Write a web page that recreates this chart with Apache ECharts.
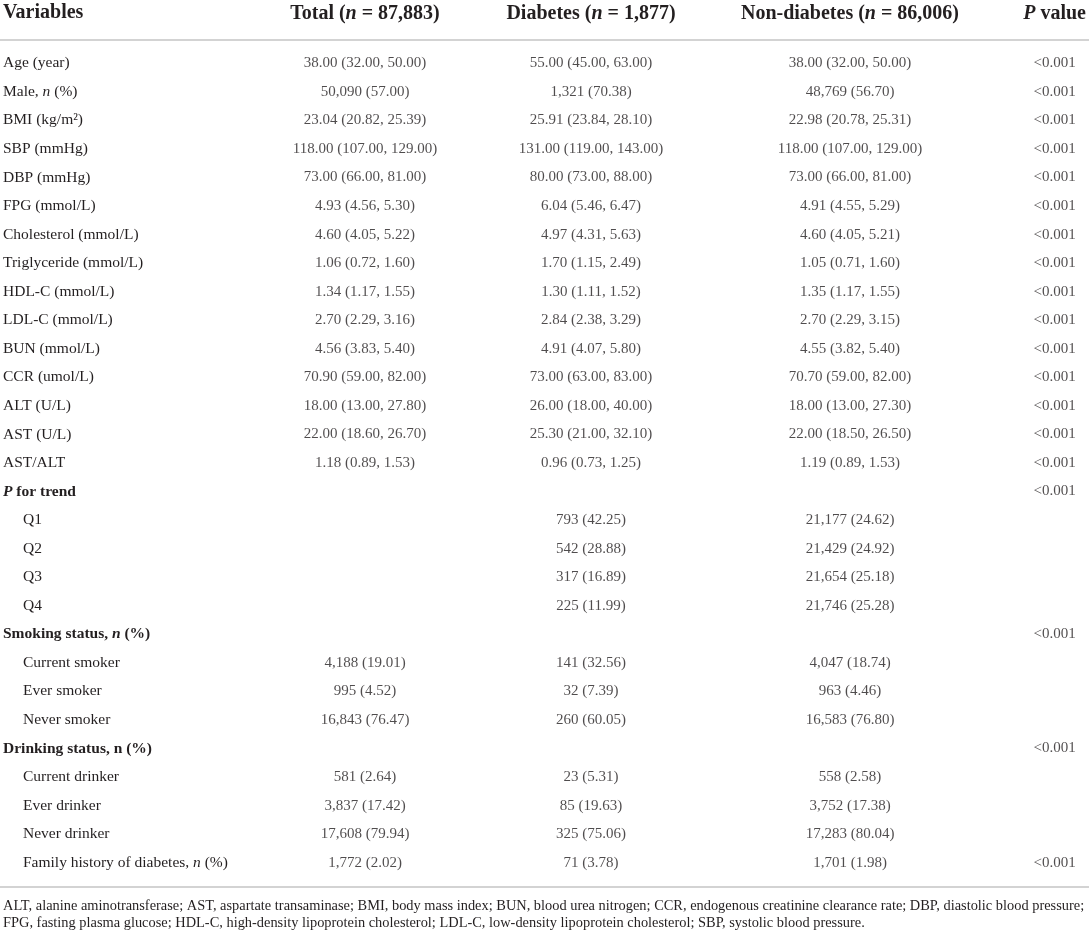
<!DOCTYPE html>
<html>
<head>
<meta charset="utf-8">
<script src="https://cdn.jsdelivr.net/npm/echarts@6/dist/echarts.min.js"></script>
<style>
  html, body { margin: 0; padding: 0; background: #fff; }
  #main { width: 1089px; height: 936px; }
</style>
</head>
<body>
<div id="main"></div>
<script>
// 行标签 ({i|..} 斜体, {b|..} 粗体, {ind|} 缩进)
var rowLabels = [
    'Age (year)', 'Male, {i|n} (%)', 'BMI (kg/m²)', 'SBP (mmHg)', 'DBP (mmHg)',
    'FPG (mmol/L)', 'Cholesterol (mmol/L)', 'Triglyceride (mmol/L)', 'HDL-C (mmol/L)',
    'LDL-C (mmol/L)', 'BUN (mmol/L)', 'CCR (umol/L)', 'ALT (U/L)', 'AST (U/L)', 'AST/ALT',
    '{bi|P}{b| for trend}', '{ind|}Q1', '{ind|}Q2', '{ind|}Q3', '{ind|}Q4',
    '{b|Smoking status, }{bi|n}{b| (%)}', '{ind|}Current smoker', '{ind|}Ever smoker', '{ind|}Never smoker',
    '{b|Drinking status, n (%)}', '{ind|}Current drinker', '{ind|}Ever drinker', '{ind|}Never drinker',
    '{ind|}Family history of diabetes, {i|n} (%)'
];
var headers = ['Total ({i|n} = 87,883)', 'Diabetes ({i|n} = 1,877)', 'Non-diabetes ({i|n} = 86,006)', '{i|P} value'];
var totalCol = [
    '38.00 (32.00, 50.00)', '50,090 (57.00)', '23.04 (20.82, 25.39)', '118.00 (107.00, 129.00)',
    '73.00 (66.00, 81.00)', '4.93 (4.56, 5.30)', '4.60 (4.05, 5.22)', '1.06 (0.72, 1.60)',
    '1.34 (1.17, 1.55)', '2.70 (2.29, 3.16)', '4.56 (3.83, 5.40)', '70.90 (59.00, 82.00)',
    '18.00 (13.00, 27.80)', '22.00 (18.60, 26.70)', '1.18 (0.89, 1.53)',
    '', '', '', '', '',
    '', '4,188 (19.01)', '995 (4.52)', '16,843 (76.47)',
    '', '581 (2.64)', '3,837 (17.42)', '17,608 (79.94)', '1,772 (2.02)'
];
var diabetesCol = [
    '55.00 (45.00, 63.00)', '1,321 (70.38)', '25.91 (23.84, 28.10)', '131.00 (119.00, 143.00)',
    '80.00 (73.00, 88.00)', '6.04 (5.46, 6.47)', '4.97 (4.31, 5.63)', '1.70 (1.15, 2.49)',
    '1.30 (1.11, 1.52)', '2.84 (2.38, 3.29)', '4.91 (4.07, 5.80)', '73.00 (63.00, 83.00)',
    '26.00 (18.00, 40.00)', '25.30 (21.00, 32.10)', '0.96 (0.73, 1.25)',
    '', '793 (42.25)', '542 (28.88)', '317 (16.89)', '225 (11.99)',
    '', '141 (32.56)', '32 (7.39)', '260 (60.05)',
    '', '23 (5.31)', '85 (19.63)', '325 (75.06)', '71 (3.78)'
];
var nonDiabetesCol = [
    '38.00 (32.00, 50.00)', '48,769 (56.70)', '22.98 (20.78, 25.31)', '118.00 (107.00, 129.00)',
    '73.00 (66.00, 81.00)', '4.91 (4.55, 5.29)', '4.60 (4.05, 5.21)', '1.05 (0.71, 1.60)',
    '1.35 (1.17, 1.55)', '2.70 (2.29, 3.15)', '4.55 (3.82, 5.40)', '70.70 (59.00, 82.00)',
    '18.00 (13.00, 27.30)', '22.00 (18.50, 26.50)', '1.19 (0.89, 1.53)',
    '', '21,177 (24.62)', '21,429 (24.92)', '21,654 (25.18)', '21,746 (25.28)',
    '', '4,047 (18.74)', '963 (4.46)', '16,583 (76.80)',
    '', '558 (2.58)', '3,752 (17.38)', '17,283 (80.04)', '1,701 (1.98)'
];
var pCol = [
    '<0.001', '<0.001', '<0.001', '<0.001', '<0.001', '<0.001', '<0.001', '<0.001',
    '<0.001', '<0.001', '<0.001', '<0.001', '<0.001', '<0.001', '<0.001',
    '<0.001', '', '', '', '',
    '<0.001', '', '', '',
    '<0.001', '', '', '', '<0.001'
];
var footnote = [
    'ALT, alanine aminotransferase; AST, aspartate transaminase; BMI, body mass index; BUN, blood urea nitrogen; CCR, endogenous creatinine clearance rate; DBP, diastolic blood pressure;',
    'FPG, fasting plasma glucose; HDL-C, high-density lipoprotein cholesterol; LDL-C, low-density lipoprotein cholesterol; SBP, systolic blood pressure.'
];

var myChart = echarts.init(document.getElementById('main'));
var FONT = '"Liberation Serif", "DejaVu Serif", serif';
var INK = '#231f20';
var RULE = '#c4c4c4';
var LABEL_SIZE = 15.5, CELL_SIZE = 15;

var bodyRich = {
    i: {fontFamily: FONT, fontSize: LABEL_SIZE, color: INK, fontStyle: 'italic'},
    b: {fontFamily: FONT, fontSize: LABEL_SIZE, color: INK, fontWeight: 'bold'},
    bi: {fontFamily: FONT, fontSize: LABEL_SIZE, color: INK, fontWeight: 'bold', fontStyle: 'italic'},
    ind: {width: 20}
};
var headRich = {
    i: {fontFamily: FONT, fontSize: 20, color: INK, fontWeight: 'bold', fontStyle: 'italic'}
};

// 表格区域
var TOP = 49, BOTTOM = 936 - 877;
var cols = [
    {data: totalCol, left: 265, width: 200},
    {data: diabetesCol, left: 491, width: 200},
    {data: nonDiabetesCol, left: 750, width: 200},
    {data: pCol, left: 1025, width: 64}
];

var grid = [{left: 3, width: 250, top: TOP, bottom: BOTTOM}];
var xAxis = [{gridIndex: 0, type: 'category', data: [''], show: false}];
var yAxis = [{
    gridIndex: 0, type: 'category', data: rowLabels, inverse: true,
    axisLine: {show: false}, axisTick: {show: false},
    axisLabel: {
        inside: true, margin: 0, interval: 0,
        fontFamily: FONT, fontSize: LABEL_SIZE, color: INK, rich: bodyRich
    }
}];
var series = [];

cols.forEach(function (c, k) {
    var gi = k + 1;
    grid.push({left: c.left, width: c.width, top: TOP, bottom: BOTTOM});
    xAxis.push({
        gridIndex: gi, type: 'category', data: [headers[k]], position: 'top',
        axisLine: {show: false}, axisTick: {show: false},
        axisLabel: {
            interval: 0, margin: 25, fontFamily: FONT, fontSize: 20, fontWeight: 'bold',
            color: INK, rich: headRich
        }
    });
    yAxis.push({gridIndex: gi, type: 'category', data: rowLabels, inverse: true, show: false});
    series.push({
        type: 'scatter', xAxisIndex: gi, yAxisIndex: gi, symbolSize: 0, silent: true,
        data: c.data.map(function (t, i) { return {value: [0, i], name: t}; })
                    .filter(function (d) { return d.name; }),
        label: {
            show: true, position: 'inside', formatter: '{b}',
            fontFamily: FONT, fontSize: CELL_SIZE, color: INK
        }
    });
});

// 上下两条横线
grid.push({left: 0, right: 0, top: 40, bottom: 936 - 887});
var ruleAxis = function (pos) {
    return {
        gridIndex: 5, type: 'value', min: 0, max: 1, position: pos,
        axisLine: {show: true, onZero: false, lineStyle: {color: RULE, width: 1.5}},
        axisTick: {show: false}, axisLabel: {show: false}, splitLine: {show: false}
    };
};
xAxis.push(ruleAxis('top'), ruleAxis('bottom'));
yAxis.push({gridIndex: 5, type: 'value', min: 0, max: 1, show: false});

option = {
    backgroundColor: '#fff',
    animation: false,
    title: [
        {
            text: 'Variables', left: 3, top: 3, padding: 0,
            textStyle: {fontFamily: FONT, fontSize: 20, fontWeight: 'bold', color: INK}
        },
        {
            text: footnote.join('\n'), left: 3, top: 898, padding: 0,
            textStyle: {fontFamily: FONT, fontSize: 14.4, fontWeight: 'normal', color: INK, lineHeight: 17}
        }
    ],
    grid: grid,
    xAxis: xAxis,
    yAxis: yAxis,
    series: series
};

myChart.setOption(option);
</script>
</body>
</html>
